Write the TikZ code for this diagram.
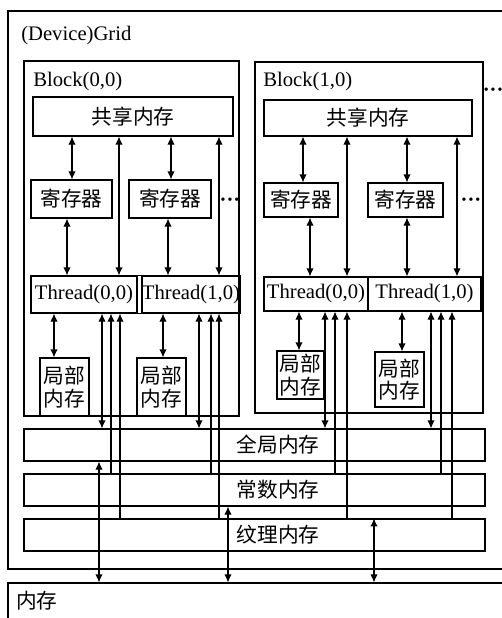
\documentclass[tikz,border=0pt]{standalone}
\usepackage{fontspec}
\setmainfont{Liberation Serif}
\newfontfamily\cjk{Noto Sans CJK SC}
\usetikzlibrary{arrows.meta}
\newcommand{\fsz}{\fontsize{15.5}{17}\selectfont}
\newcommand{\mydots}{\textbf{\textperiodcentered\textperiodcentered\textperiodcentered}}
\tikzset{
  box/.style={draw, line width=0.85pt, inner sep=0pt, align=center, font=\fsz},
  txt/.style={inner sep=0pt, font=\fsz},
  ln/.style={line width=0.85pt},
  tip/.tip={Latex[length=6pt,width=5.5pt]},
  dbl/.style={line width=0.85pt, tip-tip},
  sgl/.style={line width=0.85pt, -tip}
}
\newcommand{\mybox}[6]{\node[box, minimum width={(#4-#2)*0.75pt}, minimum height={(#5-#3)*0.75pt}] (#1) at ({(#2+#4)/2},{(#3+#5)/2}) {#6};}
\begin{document}
\begin{tikzpicture}[x=0.75pt,y=-0.75pt]
\useasboundingbox (0,0) rectangle (502,618);
\clip (0,0) rectangle (502,618);
% grid and memory
\mybox{grid}{8}{11}{520}{569}{}
\node[txt, anchor=west] (gridlbl) at (21,36) {(Device)Grid};
\mybox{MEM}{8}{583}{520}{640}{}
\node[txt, anchor=west] (memlbl) at (16,601) {\cjk 内存};
% blocks
\mybox{B0}{24}{61}{239}{416}{}
\node[txt, anchor=west] (B0l) at (33,82) {Block(0,0)};
\mybox{B1}{255}{62}{483}{413}{}
\node[txt, anchor=west] (B1l) at (263,82) {Block(1,0)};
\node[txt, anchor=west] (d2) at (482.5,92) {\mydots};
% block 0
\mybox{SM0}{33}{97}{233}{136}{\cjk 共享内存}
\mybox{R00}{31}{180}{112}{218}{\cjk 寄存器}
\mybox{R01}{129}{180}{211}{218}{\cjk 寄存器}
\node[txt] (d0) at (230,202) {\mydots};
\mybox{T00}{31}{276}{137}{313}{Thread(0,0)}
\mybox{T01}{143}{276}{239}{313}{Thread(1,0)}
\draw[ln] (T00.north east) -- (T01.north west);
\draw[ln] (T00.south east) -- (T01.south west);
\mybox{L00}{40}{358}{89}{416}{\cjk 局部\\\cjk 内存}
\mybox{L01}{137}{358}{186}{416}{\cjk 局部\\\cjk 内存}
% block 1
\mybox{SM1}{264}{100}{472}{136}{\cjk 共享内存}
\mybox{R10}{264}{183}{338}{217}{\cjk 寄存器}
\mybox{R11}{368}{183}{443}{217}{\cjk 寄存器}
\node[txt] (d1) at (471,202) {\mydots};
\mybox{T10}{264}{277}{368}{311}{Thread(0,0)}
\mybox{T11}{368}{277}{481}{311}{Thread(1,0)}
\mybox{L10}{277}{351}{324}{399}{\cjk 局部\\\cjk 内存}
\mybox{L11}{375}{352}{424}{407}{\cjk 局部\\\cjk 内存}
% global memories
\mybox{GM}{24}{429}{485}{461}{}
\node[txt] (GMt) at (278,445) {\cjk 全局内存};
\mybox{CM}{24}{474}{485}{506}{}
\node[txt] (CMt) at (278,490) {\cjk 常数内存};
\mybox{TM}{24}{519}{485}{551}{}
\node[txt] (TMt) at (278,535) {\cjk 纹理内存};
% block 0 connectors
\draw[dbl] (SM0.south -| 72,0) -- (R00.north -| 72,0);
\draw[dbl] (SM0.south -| 119,0) -- (T00.north -| 119,0);
\draw[dbl] (SM0.south -| 171,0) -- (R01.north -| 171,0);
\draw[dbl] (SM0.south -| 219,0) -- (T01.north -| 219,0);
\draw[dbl] (R00.south -| 67,0) -- (T00.north -| 67,0);
\draw[dbl] (R01.south -| 168,0) -- (T01.north -| 168,0);
\draw[dbl] (T00.south -| 54,0) -- (L00.north -| 54,0);
\draw[dbl] (T01.south -| 163,0) -- (L01.north -| 163,0);
\draw[dbl] (T00.south -| 102,0) -- (GM.north -| 102,0);
\draw[sgl] (CM.north -| 111,0) -- (T00.south -| 111,0);
\draw[sgl] (TM.north -| 120,0) -- (T00.south -| 120,0);
\draw[dbl] (T01.south -| 199,0) -- (GM.north -| 199,0);
\draw[sgl] (CM.north -| 211,0) -- (T01.south -| 211,0);
\draw[sgl] (TM.north -| 219,0) -- (T01.south -| 219,0);
% block 1 connectors
\draw[dbl] (SM1.south -| 303,0) -- (R10.north -| 303,0);
\draw[dbl] (SM1.south -| 347,0) -- (T10.north -| 347,0);
\draw[dbl] (SM1.south -| 407,0) -- (R11.north -| 407,0);
\draw[dbl] (SM1.south -| 457,0) -- (T11.north -| 457,0);
\draw[dbl] (R10.south -| 310,0) -- (T10.north -| 310,0);
\draw[dbl] (R11.south -| 407,0) -- (T11.north -| 407,0);
\draw[dbl] (T10.south -| 299,0) -- (L10.north -| 299,0);
\draw[dbl] (T11.south -| 402,0) -- (L11.north -| 402,0);
\draw[dbl] (T10.south -| 325,0) -- (GM.north -| 325,0);
\draw[sgl] (CM.north -| 335,0) -- (T10.south -| 335,0);
\draw[sgl] (TM.north -| 347,0) -- (T10.south -| 347,0);
\draw[dbl] (T11.south -| 431,0) -- (GM.north -| 431,0);
\draw[sgl] (CM.north -| 441,0) -- (T11.south -| 441,0);
\draw[sgl] (TM.north -| 452,0) -- (T11.south -| 452,0);
% memory connectors
\draw[dbl] (GM.south -| 99,0) -- (MEM.north -| 99,0);
\draw[dbl] (CM.south -| 228,0) -- (MEM.north -| 228,0);
\draw[dbl] (TM.north -| 374,0) -- (MEM.north -| 374,0);
\end{tikzpicture}
\end{document}
